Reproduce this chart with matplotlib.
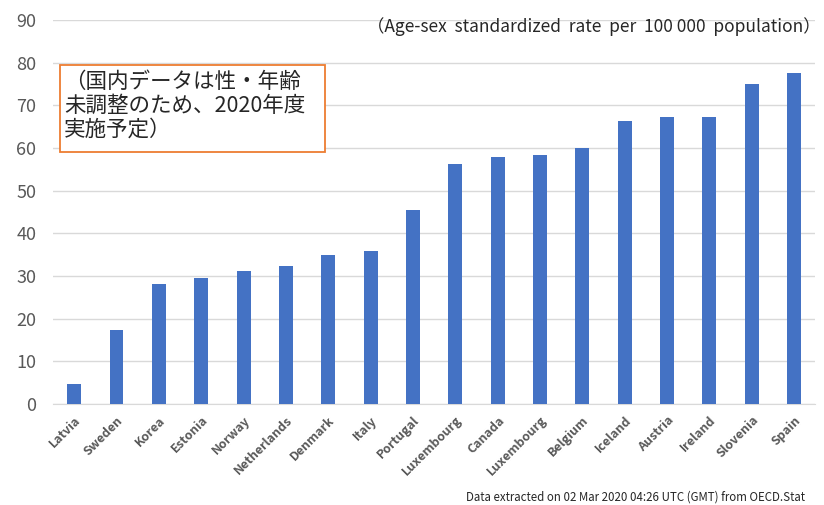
import matplotlib.pyplot as plt
from matplotlib.patches import Rectangle

plt.rcParams['font.family'] = ['Noto Sans CJK JP', 'DejaVu Sans']

countries = ['Latvia', 'Sweden', 'Korea', 'Estonia', 'Norway', 'Netherlands',
             'Denmark', 'Italy', 'Portugal', 'Luxembourg', 'Canada', 'Luxembourg',
             'Belgium', 'Iceland', 'Austria', 'Ireland', 'Slovenia', 'Spain']
rates = [4.7, 17.3, 28.1, 29.5, 31.2, 32.3, 34.9, 35.9, 45.5, 56.2, 57.9, 58.4,
         60.0, 66.3, 67.3, 67.3, 75.0, 77.6]
yticks = list(range(0, 91, 10))

fig = plt.figure(figsize=(8.24, 5.05), dpi=100)
ax = fig.add_axes([0.0643, 0.2, 0.925, 0.76])

x = list(range(len(countries)))
ax.bar(x, rates, width=0.33, color='#4472C4', zorder=3)

ax.set_xlim(-0.5, len(countries) - 0.5)
ax.set_ylim(0, 90)
ax.set_yticks(yticks)
ax.set_yticklabels([str(t) for t in yticks], fontsize=13, color='#595959')
ax.set_xticks(x)
ax.set_xticklabels(countries, rotation=45, ha='right', rotation_mode='anchor',
                   fontsize=9, fontweight='bold', color='#595959')
ax.tick_params(axis='both', length=0)
ax.tick_params(axis='y', pad=12)
ax.tick_params(axis='x', pad=7)
ax.grid(axis='y', color='#d9d9d9', linewidth=1, zorder=0)
for s in ['top', 'right', 'left']:
    ax.spines[s].set_visible(False)
ax.spines['bottom'].set_color('#d9d9d9')

# note box
box = Rectangle((60 / 824, 1 - 152 / 505), 265 / 824, 87 / 505,
                transform=fig.transFigure, fill=True, facecolor='white',
                edgecolor='#ED7D31', linewidth=1.3, zorder=5)
fig.patches.append(box)
fig.text(64 / 824, 1 - 71 / 505,
         '（国内データは性・年齢\n未調整のため、2020年度\n実施予定）',
         fontsize=15.5, color='#262626', va='top', ha='left',
         linespacing=1.12, zorder=6)

fig.text(821 / 824, 1 - 27 / 505,
         '（Age-sex  standardized  rate  per  100 000  population）',
         fontsize=12.5, color='#262626', ha='right', va='center')

fig.text(466 / 824, 1 - 497 / 505,
         'Data extracted on 02 Mar 2020 04:26 UTC (GMT) from OECD.Stat',
         fontsize=8.3, color='#262626', ha='left', va='center')

fig.savefig('out.png', dpi=100)
